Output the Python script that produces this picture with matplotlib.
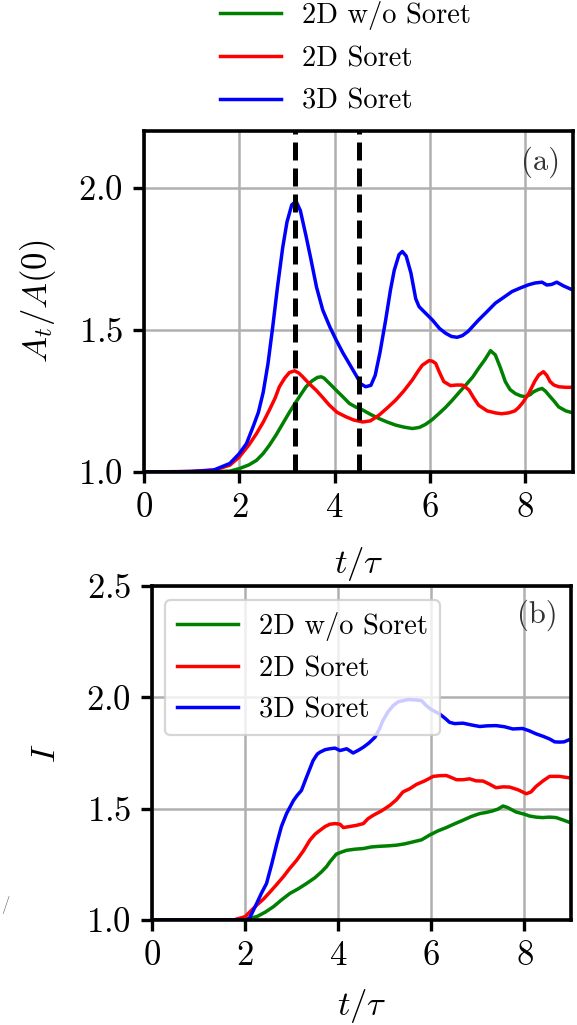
import matplotlib
matplotlib.use("Agg")
import matplotlib.pyplot as plt

plt.rcParams['font.family'] = ['cmr10', 'DejaVu Serif']
plt.rcParams['mathtext.fontset'] = 'cm'
plt.rcParams['axes.formatter.use_mathtext'] = True
plt.rcParams['axes.unicode_minus'] = False

labels = ["2D w/o Soret", "2D Soret", "3D Soret"]
colors = ["green", "red", "blue"]

# ---- panel (a): A_t/A(0) ----
a_green_t = [0, 1.5, 1.8, 2.0, 2.2, 2.36, 2.5, 2.63, 2.77, 2.91, 3.05, 3.19, 3.3, 3.4, 3.52, 3.64, 3.72, 3.78, 3.9,
             4.03, 4.17, 4.31, 4.45, 4.59, 4.75, 4.93, 5.1, 5.28, 5.45, 5.63, 5.78, 5.91, 6.05, 6.19, 6.33, 6.47,
             6.61, 6.75, 6.9, 7.02, 7.15, 7.27, 7.37, 7.47, 7.58, 7.68, 7.79, 7.9, 8.0, 8.1, 8.17, 8.27, 8.35,
             8.42, 8.49, 8.6, 8.7, 8.85, 9.0]
a_green = [1.0, 1.001, 1.003, 1.012, 1.025, 1.041, 1.065, 1.094, 1.13, 1.17, 1.21, 1.247, 1.275, 1.30, 1.32, 1.333,
           1.335, 1.33, 1.31, 1.288, 1.265, 1.241, 1.228, 1.218, 1.203, 1.188, 1.176, 1.165, 1.158, 1.153, 1.157,
           1.168, 1.185, 1.206, 1.228, 1.253, 1.28, 1.306, 1.335, 1.365, 1.395, 1.427, 1.412, 1.37, 1.318, 1.29,
           1.276, 1.268, 1.265, 1.272, 1.282, 1.29, 1.294, 1.285, 1.271, 1.25, 1.229, 1.215, 1.208]

a_red_t = [0, 1.0, 1.5, 1.8, 2.0, 2.2, 2.36, 2.5, 2.63, 2.75, 2.84, 2.95, 3.05, 3.16, 3.25, 3.33, 3.47, 3.61, 3.75,
           3.89, 4.05, 4.24, 4.4, 4.59, 4.75, 4.93, 5.1, 5.28, 5.45, 5.63, 5.75, 5.84, 5.98, 6.05, 6.12, 6.2, 6.29,
           6.43, 6.55, 6.68, 6.75, 6.82, 6.92, 7.02, 7.2, 7.37, 7.5, 7.65, 7.78, 7.86, 7.95, 8.07, 8.2, 8.28, 8.38,
           8.45, 8.52, 8.6, 8.7, 8.85, 9.0]
a_red = [1.0, 1.002, 1.008, 1.024, 1.053, 1.095, 1.135, 1.175, 1.218, 1.26, 1.30, 1.33, 1.35, 1.356, 1.348, 1.335,
         1.31, 1.288, 1.262, 1.235, 1.21, 1.194, 1.183, 1.176, 1.18, 1.20, 1.225, 1.253, 1.285, 1.324, 1.355, 1.376,
         1.392, 1.39, 1.382, 1.35, 1.318, 1.304, 1.306, 1.306, 1.298, 1.288, 1.26, 1.235, 1.215, 1.208, 1.205,
         1.208, 1.215, 1.227, 1.245, 1.276, 1.32, 1.341, 1.353, 1.34, 1.318, 1.306, 1.30, 1.298, 1.298]

a_blue_t = [0, 0.5, 1.0, 1.45, 1.8, 2.0, 2.15, 2.29, 2.4, 2.5, 2.6, 2.7, 2.8, 2.91, 3.0, 3.1, 3.19, 3.28, 3.4, 3.5,
            3.62, 3.75, 3.9, 4.03, 4.17, 4.31, 4.45, 4.55, 4.65, 4.76, 4.85, 4.95, 5.07, 5.17, 5.25, 5.35, 5.42,
            5.5, 5.6, 5.7, 5.77, 5.84, 6.05, 6.2, 6.33, 6.45, 6.57, 6.68, 6.8, 7.02, 7.2, 7.37, 7.55, 7.72, 7.9,
            8.07, 8.2, 8.35, 8.45, 8.55, 8.66, 8.8, 9.0]
a_blue = [1.0, 1.0, 1.002, 1.006, 1.03, 1.065, 1.10, 1.16, 1.21, 1.28, 1.38, 1.51, 1.65, 1.79, 1.88, 1.94, 1.953,
          1.92, 1.83, 1.75, 1.65, 1.57, 1.51, 1.465, 1.42, 1.38, 1.34, 1.31, 1.30, 1.305, 1.34, 1.42, 1.535, 1.64,
          1.71, 1.765, 1.776, 1.76, 1.70, 1.61, 1.582, 1.57, 1.535, 1.505, 1.488, 1.477, 1.474, 1.48, 1.495, 1.535,
          1.565, 1.594, 1.615, 1.635, 1.648, 1.659, 1.665, 1.668, 1.658, 1.66, 1.668, 1.655, 1.64]

a_vlines = [3.16, 4.50]

# ---- panel (b): I ----
b_green_t = [0, 1.82, 2.0, 2.25, 2.43, 2.61, 2.78, 2.96, 3.14, 3.32, 3.5, 3.64, 3.75, 3.82, 3.96, 4.07, 4.18, 4.36,
             4.54, 4.71, 4.89, 5.07, 5.25, 5.43, 5.61, 5.79, 5.96, 6.14, 6.32, 6.5, 6.68, 6.86, 7.04, 7.18, 7.32,
             7.43, 7.54, 7.64, 7.82, 8.0, 8.11, 8.25, 8.39, 8.54, 8.68, 8.82, 9.0]
b_green = [1.0, 1.0, 1.004, 1.015, 1.035, 1.06, 1.09, 1.119, 1.14, 1.164, 1.19, 1.216, 1.24, 1.261, 1.296, 1.305,
           1.313, 1.318, 1.321, 1.328, 1.331, 1.333, 1.336, 1.342, 1.351, 1.36, 1.381, 1.4, 1.415, 1.432, 1.448,
           1.465, 1.478, 1.483, 1.49, 1.498, 1.512, 1.505, 1.485, 1.475, 1.467, 1.462, 1.46, 1.462, 1.46, 1.45, 1.436]

b_red_t = [0, 1.75, 2.0, 2.12, 2.25, 2.4, 2.54, 2.68, 2.82, 2.96, 3.11, 3.25, 3.39, 3.5, 3.61, 3.72, 3.82, 3.93,
           4.04, 4.11, 4.25, 4.39, 4.54, 4.64, 4.75, 4.93, 5.11, 5.25, 5.39, 5.54, 5.68, 5.86, 6.04, 6.18, 6.32,
           6.43, 6.54, 6.68, 6.82, 6.96, 7.11, 7.25, 7.39, 7.54, 7.68, 7.86, 8.04, 8.14, 8.25, 8.4, 8.54, 8.75,
           8.95, 9.0]
b_red = [1.0, 1.0, 1.015, 1.04, 1.067, 1.095, 1.127, 1.16, 1.194, 1.232, 1.269, 1.31, 1.358, 1.385, 1.403, 1.42,
         1.43, 1.433, 1.43, 1.415, 1.42, 1.425, 1.433, 1.455, 1.47, 1.49, 1.515, 1.54, 1.575, 1.59, 1.609, 1.625,
         1.645, 1.648, 1.649, 1.64, 1.63, 1.63, 1.634, 1.625, 1.624, 1.61, 1.594, 1.598, 1.597, 1.585, 1.567, 1.575,
         1.6, 1.625, 1.645, 1.645, 1.639, 1.638]

b_blue_t = [0, 1.8, 2.05, 2.1, 2.25, 2.35, 2.46, 2.57, 2.68, 2.78, 2.89, 3.04, 3.12, 3.21, 3.32, 3.46, 3.55, 3.61,
            3.72, 3.82, 3.93, 4.04, 4.11, 4.18, 4.25, 4.32, 4.43, 4.54, 4.66, 4.79, 4.89, 4.96, 5.07, 5.18, 5.29,
            5.39, 5.5, 5.68, 5.79, 5.89, 6.0, 6.18, 6.3, 6.39, 6.5, 6.68, 6.86, 7.04, 7.2, 7.39, 7.57, 7.75, 7.96,
            8.1, 8.25, 8.4, 8.54, 8.65, 8.75, 8.85, 9.0]
b_blue = [1.0, 1.0, 1.0, 1.01, 1.075, 1.12, 1.164, 1.25, 1.343, 1.42, 1.478, 1.537, 1.56, 1.582, 1.642, 1.716,
          1.745, 1.754, 1.765, 1.769, 1.772, 1.761, 1.765, 1.769, 1.76, 1.75, 1.762, 1.776, 1.795, 1.821, 1.86,
          1.896, 1.935, 1.963, 1.98, 1.985, 1.99, 1.988, 1.985, 1.963, 1.945, 1.925, 1.905, 1.888, 1.882, 1.884,
          1.876, 1.869, 1.872, 1.873, 1.868, 1.858, 1.86, 1.85, 1.836, 1.825, 1.813, 1.8, 1.799, 1.80, 1.813]

x_ticks = [0, 2, 4, 6, 8]
a_yticks = [1.0, 1.5, 2.0]
b_yticks = [1.0, 1.5, 2.0, 2.5]

W, H = 577, 1025
fig = plt.figure(figsize=(W / 100, H / 100), dpi=100)

def fbox(l, t, r, b):
    return [l / W, 1 - b / H, (r - l) / W, (b - t) / H]

ax1 = fig.add_axes(fbox(144, 131, 573, 472))
ax2 = fig.add_axes(fbox(152, 586, 571, 920))

LW = 2.5
TICK_FS = 25
LEG_FS = 20.5

def style(ax, yticks, ylim, xlab_y):
    ax.set_xlim(0, 9)
    ax.set_ylim(*ylim)
    ax.set_xticks(x_ticks)
    ax.set_yticks(yticks)
    ax.grid(True, color='#b0b0b0', linewidth=1.8)
    ax.set_axisbelow(True)
    for s in ax.spines.values():
        s.set_linewidth(2.6)
        s.set_zorder(5)
    ax.tick_params(direction='out', length=8, width=2.4, labelsize=TICK_FS, pad=7)
    ax.set_xlabel(r'$t/\tau$', fontsize=TICK_FS)
    ax.xaxis.set_label_coords(0.5, xlab_y)

# panel (a)
lines = []
for t, y, c, lab in zip([a_green_t, a_red_t, a_blue_t], [a_green, a_red, a_blue], colors, labels):
    ln, = ax1.plot(t, y, color=c, lw=LW, label=lab)
    lines.append(ln)
for xv in a_vlines:
    ax1.axvline(xv, color='black', lw=3.6, ls=(0, (3.6, 1.6)), zorder=4)
style(ax1, a_yticks, (1.0, 2.2), -0.215)
ax1.set_ylabel(r'$A_t/A(0)$', fontsize=TICK_FS)
ax1.yaxis.set_label_coords(-0.20, 0.5)
ax1.text(0.970, 0.955, '(a)', transform=ax1.transAxes, ha='right', va='top', fontsize=22, color='#333333')

fig.legend(lines, labels, loc='upper left', bbox_to_anchor=(220 / W, 1 - 1 / H),
           frameon=False, fontsize=LEG_FS, handlelength=2.15, handletextpad=0.72,
           labelspacing=0.56, borderpad=0, borderaxespad=0)

# panel (b)
for t, y, c, lab in zip([b_green_t, b_red_t, b_blue_t], [b_green, b_red, b_blue], colors, labels):
    ax2.plot(t, y, color=c, lw=LW, label=lab)
style(ax2, b_yticks, (1.0, 2.5), -0.20)
ax2.set_ylabel(r'$I$', fontsize=TICK_FS)
ax2.yaxis.set_label_coords(-0.215, 0.5)
ax2.text(0.967, 0.96, '(b)', transform=ax2.transAxes, ha='right', va='top', fontsize=22, color='#333333')
leg = ax2.legend(loc='upper left', bbox_to_anchor=(0.031, 0.958), fontsize=LEG_FS,
                 handlelength=2.15, handletextpad=0.72, labelspacing=0.52, borderaxespad=0,
                 borderpad=0.42, framealpha=0.8, fancybox=True)
leg.get_frame().set_edgecolor('#cccccc')
leg.get_frame().set_linewidth(1.6)

fig.text(5 / W, 1 - 905 / H, '/', fontsize=12, color='#777777', ha='center', va='center')

fig.savefig('out.png', dpi=100)
